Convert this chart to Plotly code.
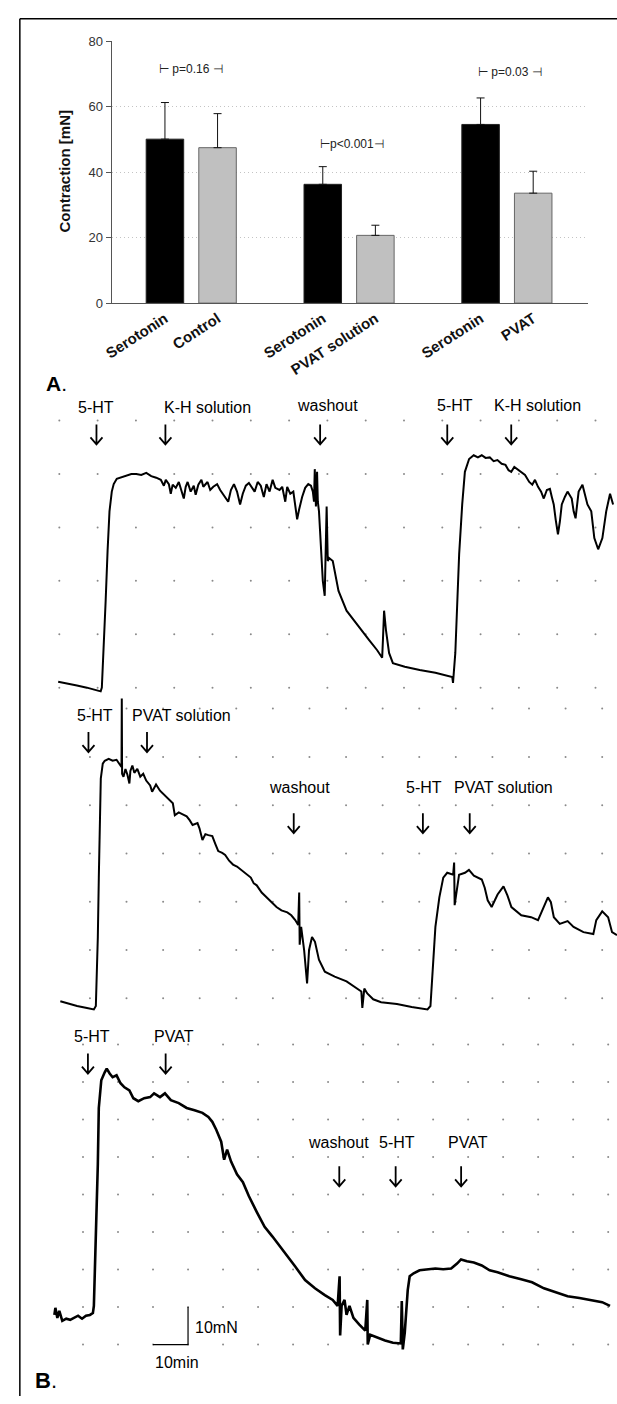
import plotly.graph_objects as go

W, H = 617, 1404
FONT = "Liberation Sans, Arial, Helvetica, sans-serif"

# ---------------- Panel A data ----------------
bar_pos = [0, 1, 3, 4, 6, 7]
bar_labels = ["Serotonin", "Control", "Serotonin", "PVAT solution", "Serotonin", "PVAT"]
bar_means = [50.1, 47.5, 36.3, 20.7, 54.6, 33.6]
bar_sd = [11.2, 10.4, 5.4, 3.1, 8.1, 6.7]
bar_fill = ["#000000", "#c0c0c0", "#000000", "#c0c0c0", "#000000", "#c0c0c0"]
bar_edge = ["#222222", "#666666", "#222222", "#666666", "#222222", "#666666"]
y_ticks = [0, 20, 40, 60, 80]
p_texts = ["⊢ p=0.16 ⊣", "⊢p<0.001⊣", "⊢ p=0.03 ⊣"]
p_x = [0.5, 3.55, 6.55]
p_y = [71.5, 48.5, 70.6]

# ---------------- Panel B data (time in min, force in mN) ----------------
top_t = [-0.3, 2.1, 4.6, 7.2, 9.8, 10.8, 11.1, 11.6, 12.1, 12.6,
         13.1, 13.7, 14.2, 15.0, 16.2, 17.5, 18.8, 20.1, 21.4, 22.7,
         24.0, 25.3, 26.5, 27.3, 27.8, 28.6, 29.1, 29.6, 30.4, 31.2,
         32.0, 32.5, 33.0, 33.5, 34.3, 35.1, 35.6, 36.3, 37.1, 37.6,
         38.7, 39.4, 40.2, 41.2, 42.0, 43.3, 44.1, 44.8, 45.6, 46.4,
         47.2, 47.9, 48.7, 49.5, 50.3, 51.0, 51.8, 52.6, 53.4, 54.1,
         54.9, 55.7, 56.4, 57.5, 58.2, 59.0, 59.5, 60.3, 61.1, 61.6,
         62.1, 62.6, 63.4, 64.2, 65.0, 65.7, 66.2, 66.5, 66.7, 67.0,
         67.3, 67.5, 67.8, 68.3, 68.8, 69.3, 69.6, 69.8, 70.1, 70.4,
         71.4, 72.2, 72.9, 75.0, 77.8, 80.9, 83.0, 84.3, 84.5, 84.8,
         85.3, 86.1, 87.1, 90.2, 94.1, 98.2, 102.6, 102.8, 103.4, 103.9,
         104.4, 105.2, 105.9, 107.0, 108.2, 109.3, 110.3, 111.3, 112.4, 113.4,
         114.4, 115.5, 116.5, 117.3, 118.0, 118.8, 119.6, 120.6, 121.6, 122.7,
         123.5, 124.2, 125.0, 125.8, 126.5, 127.3, 128.1, 128.6, 129.1, 129.6,
         130.2, 130.7, 131.2, 132.0, 132.7, 133.8, 134.3, 134.8, 135.3, 135.6,
         136.6, 137.4, 137.9, 138.9, 139.7, 140.7, 141.8, 142.8, 143.8, 144.6]
top_F = [11.1, 10.7, 10.4, 10.0, 9.4, 9.3, 10.0, 17.0, 26.3, 35.6,
         43.0, 46.7, 48.1, 49.1, 49.4, 49.8, 50.0, 50.0, 49.8, 50.2,
         49.6, 49.3, 48.9, 47.8, 48.9, 48.1, 46.3, 48.0, 47.4, 48.5,
         46.7, 45.4, 47.6, 48.5, 46.7, 47.8, 46.1, 48.0, 48.9, 47.6,
         48.5, 47.0, 47.6, 48.1, 47.0, 45.7, 44.8, 47.0, 48.1, 46.7,
         44.3, 46.3, 47.8, 48.3, 47.4, 46.7, 48.5, 47.8, 45.7, 48.1,
         46.7, 48.9, 47.4, 47.0, 47.6, 44.8, 47.6, 46.3, 46.7, 43.9,
         41.5, 43.3, 45.7, 47.4, 48.1, 47.8, 46.7, 44.8, 50.9, 43.9,
         50.4, 44.8, 43.0, 36.5, 30.0, 27.2, 37.4, 43.9, 33.7, 34.3,
         33.7, 30.9, 28.1, 24.4, 21.7, 18.9, 17.0, 15.6, 18.9, 24.4,
         20.7, 16.5, 14.6, 13.9, 13.3, 12.8, 12.0, 10.9, 16.5, 25.7,
         35.0, 44.3, 50.4, 52.8, 53.5, 53.1, 53.5, 53.0, 53.1, 52.4,
         52.6, 51.9, 51.7, 50.7, 50.4, 51.3, 50.9, 50.4, 49.8, 48.5,
         48.0, 48.9, 47.6, 46.7, 45.4, 47.0, 47.2, 45.7, 44.3, 41.5,
         38.7, 41.1, 44.3, 45.7, 46.7, 45.4, 43.0, 41.7, 44.8, 46.7,
         48.0, 45.7, 44.3, 43.0, 38.0, 35.9, 38.0, 43.0, 46.3, 44.3]

mid_t = [-8.09, -6.20, -3.51, -0.81, 1.08, 1.62, 1.89, 2.16, 2.43, 2.70,
         2.97, 3.51, 4.05, 5.13, 6.20, 7.28, 8.09, 8.63, 8.71, 8.79,
         9.17, 9.71, 10.25, 10.79, 11.06, 11.60, 12.14, 12.95, 13.76, 14.57,
         15.38, 16.46, 17.00, 18.07, 19.15, 19.96, 21.04, 22.12, 22.66, 23.20,
         24.28, 25.36, 26.44, 27.25, 28.06, 29.40, 29.94, 30.75, 31.56, 32.37,
         33.45, 34.26, 35.07, 36.15, 36.96, 38.04, 39.11, 40.19, 41.27, 42.62,
         43.97, 44.78, 45.59, 46.94, 48.29, 49.64, 50.99, 52.34, 53.95, 55.03,
         56.11, 56.92, 57.19, 57.33, 57.73, 58.54, 59.35, 59.89, 60.70, 61.51,
         62.59, 64.20, 66.90, 70.14, 73.10, 74.18, 74.45, 74.99, 75.80, 77.42,
         79.58, 83.90, 87.94, 92.26, 93.07, 93.88, 94.42, 95.50, 96.57, 97.65,
         99.27, 99.54, 99.68, 100.89, 102.51, 103.58, 104.93, 107.09, 107.90, 108.71,
         109.79, 111.41, 113.03, 114.10, 115.19, 117.89, 120.58, 122.47, 123.55, 125.17,
         125.98, 126.79, 128.41, 130.56, 132.18, 134.88, 137.58, 138.39, 140.01, 141.63,
         142.70, 144.05]
mid_F = [9.4, 9.0, 8.4, 8.0, 7.7, 8.4, 14.5, 22.7, 35.0, 47.3,
         55.5, 58.6, 59.2, 59.6, 59.2, 59.4, 58.6, 57.9, 72.1, 56.5,
         55.9, 57.5, 56.3, 54.5, 57.1, 58.2, 56.7, 57.5, 55.9, 56.5,
         55.1, 54.1, 52.8, 54.3, 53.0, 52.4, 51.8, 50.8, 50.4, 47.9,
         48.5, 48.1, 47.7, 46.9, 45.9, 46.3, 45.2, 42.8, 44.0, 43.8,
         43.6, 42.0, 40.5, 40.1, 39.7, 38.5, 37.7, 37.3, 36.6, 35.8,
         35.0, 33.8, 33.4, 31.9, 30.9, 29.9, 28.9, 28.2, 27.8, 27.2,
         26.2, 25.2, 31.9, 21.1, 24.8, 20.0, 13.1, 20.0, 22.7, 21.7,
         18.0, 15.5, 14.5, 13.5, 12.0, 11.4, 8.0, 12.0, 11.0, 9.8,
         9.2, 8.8, 8.2, 7.7, 8.4, 19.2, 24.8, 30.9, 35.0, 36.0,
         35.6, 38.1, 29.3, 35.6, 36.0, 36.6, 35.4, 34.6, 32.9, 30.3,
         28.9, 31.5, 33.2, 31.3, 28.9, 27.2, 26.8, 26.2, 28.2, 30.9,
         29.9, 26.8, 25.4, 26.0, 24.8, 23.7, 23.3, 26.2, 28.0, 26.8,
         23.7, 23.1]

bot_t = [-8.18, -7.89, -7.33, -6.77, -5.92, -4.79, -3.66, -2.54, -1.41, -0.28,
         0.85, 1.97, 2.82, 3.10, 3.66, 4.23, 4.51, 5.22, 6.20, 6.77,
         7.61, 8.46, 9.58, 10.71, 11.84, 13.25, 14.38, 15.79, 17.48, 19.17,
         20.30, 21.99, 23.40, 25.09, 27.34, 29.60, 31.85, 34.11, 35.80, 36.93,
         38.06, 39.47, 40.31, 41.16, 42.29, 43.98, 45.67, 47.36, 49.61, 51.87,
         54.12, 56.38, 58.35, 60.61, 63.43, 66.25, 69.07, 71.32, 72.73, 73.29,
         73.44, 73.86, 74.70, 75.27, 76.11, 77.24, 78.93, 80.62, 81.19, 81.33,
         82.03, 84.01, 86.26, 88.52, 90.77, 91.05, 91.34, 91.90, 92.75, 93.31,
         94.44, 96.13, 98.38, 100.64, 102.89, 105.15, 106.84, 107.97, 109.66, 111.63,
         113.89, 116.14, 118.40, 121.78, 125.16, 128.26, 131.65, 135.03, 138.41, 141.80,
         145.18, 148.28, 150.53]
bot_F = [17.9, 19.8, 17.1, 19.0, 16.3, 16.9, 16.6, 17.1, 17.7, 16.9,
         17.7, 17.9, 18.4, 20.3, 36.1, 58.0, 73.1, 80.5, 82.6, 83.6,
         82.3, 81.3, 81.8, 79.7, 78.6, 77.8, 75.7, 74.9, 75.7, 76.0,
         77.0, 76.0, 77.0, 75.2, 74.4, 73.1, 72.5, 71.8, 70.7, 69.4,
         67.3, 64.1, 59.3, 62.0, 58.8, 55.4, 53.3, 49.6, 45.4, 41.4,
         38.8, 36.1, 33.5, 30.8, 27.2, 25.0, 23.2, 21.9, 20.3, 28.2,
         12.4, 20.3, 21.9, 17.9, 20.3, 17.1, 15.3, 13.7, 21.9, 10.0,
         12.6, 11.8, 11.1, 10.5, 10.3, 21.6, 8.7, 13.2, 24.5, 28.2,
         29.0, 29.8, 30.1, 30.3, 30.1, 30.3, 31.6, 32.7, 32.2, 31.9,
         31.1, 29.8, 29.3, 28.2, 27.4, 26.6, 25.0, 24.0, 22.9, 22.4,
         21.9, 21.3, 20.3]

# event markers: (label, label time, arrow time)
top_labels = ["5-HT", "K-H solution", "washout", "5-HT", "K-H solution"]
top_label_t = [9.7, 38.6, 69.9, 103.4, 124.9]
top_arrow_t = [9.7, 27.7, 68.1, 101.3, 118.0]
mid_labels = ["5-HT", "PVAT solution", "washout", "5-HT", "PVAT solution"]
mid_label_t = [1.3, 25.1, 57.4, 91.3, 113.0]
mid_arrow_t = [-0.4, 15.6, 55.7, 91.0, 103.8]
bot_labels = ["5-HT", "PVAT", "washout", "5-HT", "PVAT"]
bot_label_t = [2.5, 26.1, 73.0, 89.8, 109.9]
bot_arrow_t = [1.4, 23.6, 73.2, 89.3, 108.0]

# recorder grid (10 min x 10 mN)
top_grid_t = list(range(0, 141, 10)); top_grid_F = list(range(10, 61, 10))
mid_grid_t = list(range(0, 141, 10)); mid_grid_F = list(range(10, 71, 10))
bot_grid_t = list(range(0, 151, 10)); bot_grid_F = list(range(10, 91, 10))

# scale bar (min, mN)
scale_t = [20, 30, 30]
scale_F = [10, 10, 20]


def py(p):
    """pixel row -> paper fraction"""
    return 1 - p / H


def px(p):
    return p / W


fig = go.Figure()

# ---- Panel A bars ----
fig.add_trace(go.Bar(
    x=bar_pos, y=bar_means, width=0.713,
    marker=dict(color=bar_fill, line=dict(color=bar_edge, width=1)),
    error_y=dict(type="data", array=bar_sd, arrayminus=[0] * len(bar_sd),
                 symmetric=False, color="#111", thickness=1, width=4),
    xaxis="x", yaxis="y", showlegend=False))

# ---- Panel B grids and recordings ----
for gt, gF, ax in [(top_grid_t, top_grid_F, "2"), (mid_grid_t, mid_grid_F, "3"),
                   (bot_grid_t, bot_grid_F, "4")]:
    fig.add_trace(go.Scatter(
        x=[t for t in gt for f in gF], y=[f for t in gt for f in gF],
        mode="markers", marker=dict(size=2, color="#8a8a8a"),
        xaxis="x" + ax, yaxis="y" + ax, showlegend=False, hoverinfo="skip"))

for tt, ff, ax, w in [(top_t, top_F, "2", 2.0), (mid_t, mid_F, "3", 2.0),
                      (bot_t, bot_F, "4", 2.6)]:
    fig.add_trace(go.Scatter(x=tt, y=ff, mode="lines",
                             line=dict(color="black", width=w),
                             xaxis="x" + ax, yaxis="y" + ax, showlegend=False))

fig.add_trace(go.Scatter(x=scale_t, y=scale_F, mode="lines",
                         line=dict(color="black", width=1.2),
                         xaxis="x4", yaxis="y4", showlegend=False))

ann = []
shapes = [
    dict(type="line", xref="paper", yref="paper", x0=px(12), x1=px(12), y0=0, y1=py(12),
         line=dict(color="black", width=1.5)),
    dict(type="line", xref="paper", yref="paper", x0=px(12), x1=1, y0=py(12), y1=py(12),
         line=dict(color="black", width=1.5)),
]


def note(text, x, y, xref, yref, size, xanchor="center", **kw):
    ann.append(dict(text=text, x=x, y=y, xref=xref, yref=yref, showarrow=False,
                    xanchor=xanchor, yanchor="middle",
                    font=dict(family=FONT, size=size, color=kw.pop("color", "black")), **kw))


# p-value annotations
for txt, xx, yy in zip(p_texts, p_x, p_y):
    note(txt, xx, yy, "x", "y", 12, color="#222")
# y title
note("<b>Contraction [mN]</b>", px(57), py(166), "paper", "paper", 15,
     color="#111", textangle=-90)
# panel letters
note("<b>A</b>.", px(36), py(381), "paper", "paper", 21, xanchor="left")
note("<b>B</b>.", px(25), py(1388), "paper", "paper", 22, xanchor="left")

ARROW = "M0,10 L0,-10 M-6,-3 L0,-10 L6,-3"


def events(labels, lt, at, xref, label_py, arrow_py):
    for i, (lab, t1, t2) in enumerate(zip(labels, lt, at)):
        note(lab, t1, py(label_py[i]), xref, "paper", 16)
        shapes.append(dict(type="path", xref=xref, yref="paper", xsizemode="pixel",
                           ysizemode="pixel", xanchor=t2, yanchor=py(arrow_py[i]),
                           path=ARROW, line=dict(color="black", width=1.8)))


events(top_labels, top_label_t, top_arrow_t, "x2",
       [405, 405, 403, 403, 403], [432] * 5)
events(mid_labels, mid_label_t, mid_arrow_t, "x3",
       [716, 716, 789, 789, 789], [743, 743, 825, 825, 825])
events(bot_labels, bot_label_t, bot_arrow_t, "x4",
       [1041, 1041, 1148, 1148, 1148], [1068, 1068, 1182, 1182, 1182])

# scale bar text
note("10mN", 38.1, 14.5, "x4", "y4", 16)
note("10min", 26.8, 5.2, "x4", "y4", 16)

hidden = dict(visible=False, fixedrange=True)

fig.update_layout(
    width=W, height=H, margin=dict(l=0, r=0, t=0, b=0),
    paper_bgcolor="white", plot_bgcolor="rgba(0,0,0,0)",
    font=dict(family=FONT),
    annotations=ann,
    shapes=shapes,
    xaxis=dict(domain=[px(105), px(588)], range=[(105 - 159) / 53.3, (588 - 159) / 53.3],
               tickvals=bar_pos, ticktext=["<b>%s</b>" % s for s in bar_labels],
               tickangle=-33, tickfont=dict(family=FONT, size=15, color="#111"),
               showline=True, linecolor="#555", linewidth=1, showgrid=False,
               zeroline=False, ticks="", fixedrange=True),
    yaxis=dict(domain=[py(299.3), py(34.7)], range=[0, 80], tickvals=y_ticks,
               showgrid=True, gridcolor="#c4c4c4", griddash="1px,3px", gridwidth=1,
               ticks="outside", ticklen=5, tickcolor="#555", showline=True,
               linecolor="#555", linewidth=1, zeroline=False,
               tickfont=dict(family=FONT, size=13, color="#333"), fixedrange=True),
    xaxis2=dict(domain=[0, 1], range=[-52 / 3.88, 565 / 3.88], anchor="y2", **hidden),
    yaxis2=dict(domain=[py(697), py(395)], range=[(688 - 697) / 5.4 + 10, (688 - 395) / 5.4 + 10],
                anchor="x2", **hidden),
    xaxis3=dict(domain=[0, 1], range=[-83 / 3.707, 534 / 3.707], anchor="y3", **hidden),
    yaxis3=dict(domain=[py(1020), py(697)], range=[(1002 - 1020) / 4.88 + 10, (1002 - 697) / 4.88 + 10],
                anchor="x3", **hidden),
    xaxis4=dict(domain=[0, 1], range=[-76 / 3.547, 541 / 3.547], anchor="y4", **hidden),
    yaxis4=dict(domain=[py(1398), py(1020)], range=[(1352 - 1398) / 3.79 + 10, (1352 - 1020) / 3.79 + 10],
                anchor="x4", **hidden),
)

fig.write_html(
    "out.html",
    config={"displayModeBar": False, "staticPlot": True},
    post_script=("document.documentElement.style.margin='0';"
                 "document.body.style.margin='0';"
                 "document.body.style.padding='0';"
                 "document.body.style.overflow='hidden';"
                 "var d=document.getElementById('{plot_id}');"
                 "d.style.position='fixed';d.style.left='0px';d.style.top='0px';"),
)
